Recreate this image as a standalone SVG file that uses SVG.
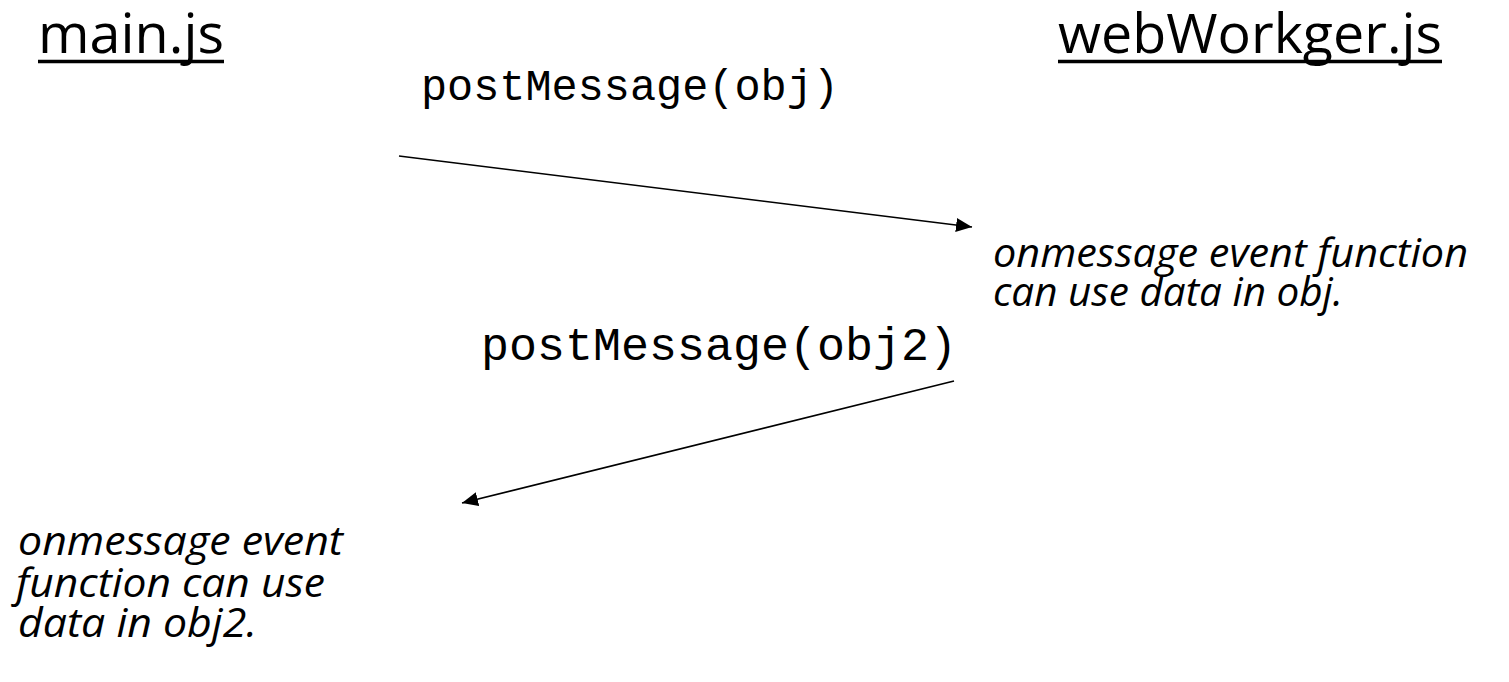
<svg xmlns="http://www.w3.org/2000/svg" width="1509" height="682" viewBox="0 0 1509 682">
  <style>
    .title { font-family: "Open Sans", "Noto Sans", sans-serif; font-size: 55px; fill: #000; }
    .code { font-family: "Liberation Mono", "Courier New", monospace; fill: #000; }
    .note { font-family: "Open Sans", "Noto Sans", sans-serif; font-style: italic; font-size: 41px; fill: #000; }
    .uline { stroke: #000; stroke-width: 3.5; }
    .msg { stroke: #000; stroke-width: 1.6; fill: none; marker-end: url(#head); }
  </style>
  <defs>
    <marker id="head" markerUnits="userSpaceOnUse" markerWidth="17" markerHeight="17" viewBox="0 0 17 17" refX="16" refY="8.5" orient="auto">
      <path d="M0,1.5 L16,8.5 L0,15.5 Z" fill="#000"/>
    </marker>
  </defs>
  <rect width="1509" height="682" fill="#fff"/>

  <!-- script headings -->
  <g id="main-js">
    <text class="title" x="38" y="53" textLength="186" lengthAdjust="spacingAndGlyphs">main.js</text>
    <line class="uline" x1="38" y1="61.5" x2="224" y2="61.5"/>
  </g>
  <g id="web-worker-js">
    <text class="title" x="1058" y="53" textLength="384" lengthAdjust="spacingAndGlyphs">webWorkger.js</text>
    <line class="uline" x1="1058" y1="61.5" x2="1442" y2="61.5"/>
  </g>

  <!-- message calls -->
  <g id="post-obj">
    <text class="code" x="421" y="100" font-size="43.5" textLength="418" lengthAdjust="spacingAndGlyphs">postMessage(obj)</text>
  </g>
  <g id="post-obj2">
    <text class="code" x="481" y="360" font-size="46.5" textLength="476" lengthAdjust="spacingAndGlyphs">postMessage(obj2)</text>
  </g>

  <!-- handler notes -->
  <g id="worker-onmessage">
    <text class="note" x="993" y="267" textLength="475" lengthAdjust="spacingAndGlyphs">onmessage event function</text>
    <text class="note" x="993" y="306" textLength="350" lengthAdjust="spacingAndGlyphs">can use data in obj.</text>
  </g>
  <g id="main-onmessage">
    <text class="note" x="18" y="555" textLength="325" lengthAdjust="spacingAndGlyphs">onmessage event</text>
    <text class="note" x="16" y="597" textLength="309" lengthAdjust="spacingAndGlyphs">function can use</text>
    <text class="note" x="18" y="637" textLength="239" lengthAdjust="spacingAndGlyphs">data in obj2.</text>
  </g>

  <!-- connectors -->
  <g id="connectors">
    <line class="msg" x1="399" y1="156" x2="972" y2="227"/>
    <line class="msg" x1="954" y1="381" x2="462" y2="503"/>
  </g>
</svg>
